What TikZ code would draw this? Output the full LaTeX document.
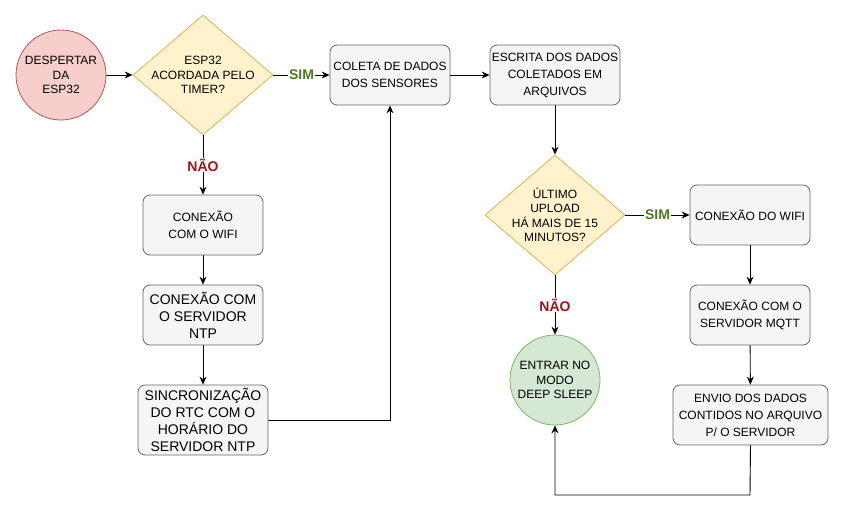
\documentclass[tikz,border=0pt]{standalone}
\usepackage{fontspec}
\setmainfont{Liberation Sans}
\usetikzlibrary{shapes.geometric,arrows.meta}
\definecolor{redfill}{HTML}{F8CECC}
\definecolor{redline}{HTML}{B85450}
\definecolor{yelfill}{HTML}{FFF2CC}
\definecolor{yelline}{HTML}{D6B656}
\definecolor{grayfill}{HTML}{F5F5F5}
\definecolor{grayline}{HTML}{666666}
\definecolor{grnfill}{HTML}{D5E8D4}
\definecolor{grnline}{HTML}{82B366}
\definecolor{simgreen}{RGB}{77,122,31}
\definecolor{naored}{RGB}{160,20,20}
\tikzset{
  txt/.style={font=\fontsize{12}{14.4}\selectfont, align=center},
  boxtxt/.style={font=\fontsize{12}{17}\selectfont, align=center},
  bigtxt/.style={font=\fontsize{14}{17}\selectfont, align=center},
  stepbox/.style={draw=grayline, fill=grayfill, rounded corners=7pt, inner sep=0pt, line width=0.8pt},
  dec/.style={diamond, draw=yelline, fill=yelfill, inner sep=0pt, minimum width=140pt, minimum height=120pt, aspect=1.1667, line width=0.8pt},
  startc/.style={circle, draw=redline, fill=redfill, minimum size=90pt, inner sep=0pt, line width=0.8pt},
  endc/.style={circle, draw=grnline, fill=grnfill, minimum size=90pt, inner sep=0pt, line width=0.8pt},
  arr/.style={-{Stealth[length=8pt,width=7pt]}, line width=0.9pt},
  lbl/.style={fill=white, inner sep=1pt, font=\bfseries\fontsize{14}{16}\selectfont}
}
\begin{document}
\begin{tikzpicture}[x=1pt,y=-1pt]
\useasboundingbox (0,0) rectangle (844,520);
\node[startc, txt] (start) at (61,75) {DESPERTAR\\DA\\ESP32};
\node[dec] (d1) at (203,75) {};
\node[txt] (d1t) at (203,75) {ESP32\\ACORDADA PELO\\TIMER?};
\node[stepbox, boxtxt, minimum width=120pt, minimum height=60pt] (coleta) at (390,75) {COLETA DE DADOS\\DOS SENSORES};
\node[stepbox, boxtxt, minimum width=130pt, minimum height=60pt] (escrita) at (555,75) {ESCRITA DOS DADOS\\COLETADOS EM\\ARQUIVOS};
\node[dec] (d2) at (555,215) {};
\node[txt] (d2t) at (555,215) {ÚLTIMO\\UPLOAD\\HÁ MAIS DE 15\\MINUTOS?};
\node[stepbox, boxtxt, minimum width=120pt, minimum height=60pt] (wifi2) at (750,215) {CONEXÃO DO WIFI};
\node[stepbox, boxtxt, minimum width=120pt, minimum height=60pt] (mqtt) at (750,315) {CONEXÃO COM O\\SERVIDOR MQTT};
\node[stepbox, boxtxt, minimum width=155pt, minimum height=60pt] (envio) at (750.5,415) {ENVIO DOS DADOS\\CONTIDOS NO ARQUIVO\\P/ O SERVIDOR};
\node[endc, txt] (sleep) at (555,380) {ENTRAR NO\\MODO\\DEEP SLEEP};
\node[stepbox, boxtxt, minimum width=120pt, minimum height=60pt] (wifi1) at (203,225) {CONEXÃO\\COM O WIFI};
\node[stepbox, bigtxt, minimum width=120pt, minimum height=60pt] (ntp) at (203,315) {CONEXÃO COM\\O SERVIDOR\\NTP};
\node[stepbox, bigtxt, minimum width=130pt, minimum height=70pt] (sync) at (203,420) {SINCRONIZAÇÃO\\DO RTC COM O\\HORÁRIO DO\\SERVIDOR NTP};
\coordinate (loop) at (750,495);
\draw[arr] (start) -- (d1);
\draw[arr] (d1) -- node[lbl, text=simgreen] {SIM} (coleta);
\draw[arr] (coleta) -- (escrita);
\draw[arr] (escrita) -- (d2);
\draw[arr] (d1) -- node[lbl, text=naored] {NÃO} (wifi1);
\draw[arr] (wifi1) -- (ntp);
\draw[arr] (ntp) -- (sync);
\draw[arr] (sync.east) -| (coleta.south);
\draw[arr] (d2) -- node[lbl, text=simgreen] {SIM} (wifi2);
\draw[arr] (wifi2) -- (mqtt);
\draw[arr] (mqtt) -- (envio);
\draw[arr] (d2) -- node[lbl, text=naored] {NÃO} (sleep);
\draw[arr] (envio.south) -- (loop) -| (sleep.south);
\end{tikzpicture}
\end{document}
